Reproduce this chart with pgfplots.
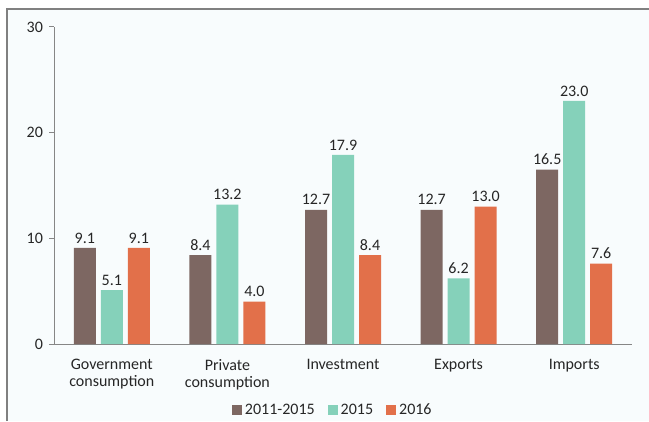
\documentclass[border=0pt]{standalone}
\usepackage{pgfplots}
\pgfplotsset{compat=1.18}
\usepackage{fontspec}
\setmainfont{Carlito}
\definecolor{cA}{HTML}{7D6762}
\definecolor{cB}{HTML}{85D1BA}
\definecolor{cC}{HTML}{E2704A}
\definecolor{txt}{HTML}{262626}
\definecolor{axc}{HTML}{868686}
\definecolor{bg}{HTML}{F8FCFD}
\definecolor{frm}{HTML}{808080}
\begin{document}
\begin{tikzpicture}[x=0.75pt,y=0.75pt]
\useasboundingbox (0,0) rectangle (649,421);
\fill[white] (0,0) rectangle (649,421);
\fill[bg] (7,0) rectangle (649,412);
\draw[color=frm, line width=1.1pt] (7,0) -- (7,412) -- (649,412);
\begin{axis}[
  at={(40.5pt,57.75pt)}, anchor=south west,
  scale only axis, width=433.5pt, height=237.75pt,
  xmin=-0.5, xmax=4.5, ymin=0, ymax=30,
  axis x line*=bottom, axis y line*=left,
  axis line style={color=axc, line width=0.75pt},
  every tick/.style={color=axc, line width=0.75pt},
  tick align=outside, major tick length=3.75pt,
  ytick={0,10,20,30},
  xtick={0,1,2,3,4},
  xticklabels={{Government\\consumption},{Private\\consumption},Investment,Exports,Imports},
  x tick style={draw=none},
  extra x ticks={-0.5,0.5,1.5,2.5,3.5,4.5},
  extra x tick labels={},
  extra x tick style={tick style={draw=axc, line width=0.75pt}, major tick length=3.75pt},
  xticklabel style={align=center, font=\fontsize{12}{12.75}\selectfont, text=txt, yshift=-4pt},
  yticklabel style={font=\fontsize{12}{12}\selectfont, text=txt, xshift=-1pt},
  /pgf/number format/assume math mode=true,
  ybar=3.75pt, bar width=16.5pt,
  nodes near coords,
  nodes near coords style={font=\fontsize{12}{12}\selectfont, text=txt, /pgf/number format/.cd, fixed, fixed zerofill, precision=1, assume math mode=true},
  legend style={at={(axis description cs:0.482,-0.208)}, anchor=center, draw=none, fill=none,
    legend columns=3, font=\fontsize{12}{12}\selectfont, text=txt,
    /tikz/every even column/.style={column sep=9pt},
    /tikz/every odd column/.style={column sep=1pt},
    nodes={inner sep=1pt}},
  legend image code/.code={\fill[#1] (0pt,-3.75pt) rectangle (7.5pt,3.75pt);},
  clip=false,
]
\addplot[fill=cA, draw=none] coordinates {(0,9.1) (1,8.4) (2,12.7) (3,12.7) (4,16.5)};
\addplot[fill=cB, draw=none] coordinates {(0,5.1) (1,13.2) (2,17.9) (3,6.2) (4,23.0)};
\addplot[fill=cC, draw=none] coordinates {(0,9.1) (1,4.0) (2,8.4) (3,13.0) (4,7.6)};
\legend{2011-2015,2015,2016}
\end{axis}
\end{tikzpicture}
\end{document}
